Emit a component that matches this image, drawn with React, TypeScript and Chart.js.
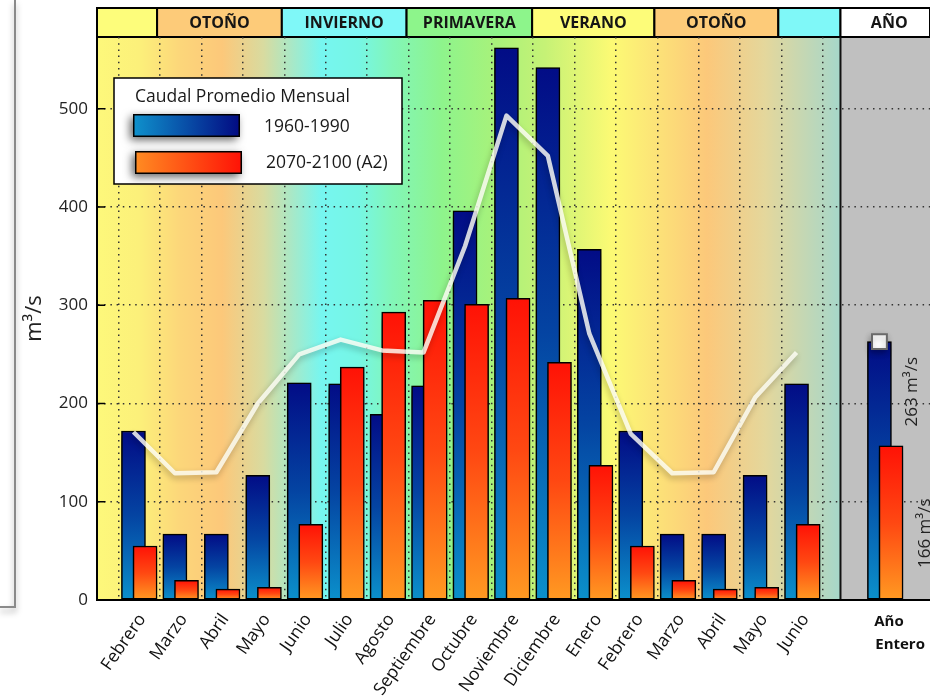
import React, { useEffect, useRef } from 'react';
import { Chart, registerables } from 'chart.js';

Chart.register(...registerables);

// ---------------- data ----------------
const monthLabels = [
  'Febrero', 'Marzo', 'Abril', 'Mayo', 'Junio', 'Julio', 'Agosto', 'Septiembre',
  'Octubre', 'Noviembre', 'Diciembre', 'Enero', 'Febrero', 'Marzo', 'Abril', 'Mayo', 'Junio',
];
const flow19601990 = [172, 67, 67, 127, 221, 220, 189, 218, 396, 562, 542, 357, 172, 67, 67, 127, 220];
const flow20702100 = [55, 20, 11, 13, 77, 237, 293, 305, 301, 307, 242, 137, 55, 20, 11, 13, 77];
const meanLine = [171, 129, 130, 200, 250, 265, 254, 252, 360, 493, 452, 271, 169, 129, 130, 206, 252];
const annualLabel = ['Año', 'Entero'];
const annual19601990 = 263;
const annual20702100 = 157;
const annualText19601990 = '263 m³/s';
const annualText20702100 = '166 m³/s';
const seasonNames = ['', 'OTOÑO', 'INVIERNO', 'PRIMAVERA', 'VERANO', 'OTOÑO', '', 'AÑO'];
const yTickValues = [0, 100, 200, 300, 400, 500];
const legendTitle = 'Caudal Promedio Mensual';
const seriesNames = ['1960-1990', '2070-2100 (A2)'];
const yAxisTitle = 'm³/s';

// ---------------- layout / style ----------------
const FONT = "'Open Sans', sans-serif";
const X_MIN = -1.02;
const X_MAX = 19.08;
const Y_MAX = 573;
const BAR_SHIFT = 0.14;
const ANNUAL_POS = 18;
const PANEL_START = 16.92;
const SEASON_EDGES = [-1.02, 0.43, 3.44, 6.45, 9.48, 12.43, 15.42, 16.92, 19.08];
const SEASON_COLORS = ['#fdfd7b', '#fdcb79', '#7ff8f8', '#8df58b', '#fdfc79', '#fdcb79', '#7ff8f8', '#ffffff'];
const BG_STOPS: [number, string][] = [
  [-1.02, '#fdf87b'], [0.0, '#fcf07a'], [1.0, '#fcd67a'], [2.0, '#fcc87a'], [3.0, '#d8dba0'],
  [4.4, '#76f6f0'], [5.3, '#76f6e4'], [6.1, '#82f6b8'], [7.3, '#8ef48c'], [8.6, '#a8f27a'],
  [9.8, '#c6f276'], [11.4, '#fcfa74'], [12.6, '#fce078'], [13.7, '#fcc87a'], [15.1, '#e4d79c'],
  [16.92, '#a6d7ca'],
];
const BLUE_STOPS: [number, string][] = [[0, '#020c86'], [0.5, '#0444a2'], [1, '#0b90cb']];
const RED_STOPS: [number, string][] = [[0, '#ff1206'], [0.5, '#ff4812'], [1, '#ff9a22']];

const barGradient = (c: any, stops: [number, string][]) => {
  const chart = c.chart;
  if (!chart.chartArea || c.type !== 'data' || !c.raw) return stops[0][1];
  const ys = chart.scales.y;
  const top = ys.getPixelForValue(c.raw.y);
  const base = ys.getPixelForValue(0);
  const g = chart.ctx.createLinearGradient(0, top, 0, base);
  stops.forEach(([o, col]) => g.addColorStop(o, col));
  return g;
};

const backdropPlugin = {
  id: 'backdrop',
  beforeDraw(chart: any) {
    const { ctx, chartArea: a, scales } = chart;
    const xs = scales.x;
    const px = (v: number) => xs.getPixelForValue(v);
    const panelX = px(PANEL_START);
    ctx.save();
    const g = ctx.createLinearGradient(a.left, 0, panelX, 0);
    BG_STOPS.forEach(([v, c]) => {
      const o = Math.min(1, Math.max(0, (px(v) - a.left) / (panelX - a.left)));
      g.addColorStop(o, c);
    });
    ctx.fillStyle = g;
    ctx.fillRect(a.left, a.top, panelX - a.left, a.bottom - a.top);
    ctx.fillStyle = '#c0c0c0';
    ctx.fillRect(panelX, a.top, a.right - panelX, a.bottom - a.top);
    // header
    const hTop = 8;
    const hBot = a.top;
    ctx.font = `bold 16px ${FONT}`;
    ctx.textAlign = 'center';
    ctx.textBaseline = 'middle';
    for (let i = 0; i < seasonNames.length; i++) {
      const x0 = px(SEASON_EDGES[i]);
      const x1 = Math.min(px(SEASON_EDGES[i + 1]), a.right + 5);
      ctx.fillStyle = SEASON_COLORS[i];
      ctx.fillRect(x0, hTop, x1 - x0, hBot - hTop);
      ctx.lineWidth = 2;
      ctx.strokeStyle = '#000';
      ctx.strokeRect(x0, hTop, x1 - x0, hBot - hTop);
      ctx.fillStyle = '#151515';
      const cx = i === seasonNames.length - 1 ? (x0 + a.right) / 2 + 4 : (x0 + x1) / 2;
      ctx.fillText(seasonNames[i], cx, (hTop + hBot) / 2 + 1);
    }
    // divider between months and annual panel
    ctx.beginPath();
    ctx.moveTo(panelX, a.top);
    ctx.lineTo(panelX, a.bottom);
    ctx.lineWidth = 2;
    ctx.strokeStyle = '#111';
    ctx.stroke();
    ctx.restore();
  },
  afterDraw(chart: any) {
    const { ctx, chartArea: a, scales } = chart;
    const xs = scales.x;
    const ys = scales.y;
    ctx.save();
    // inner y ticks
    ctx.strokeStyle = '#000';
    ctx.lineWidth = 1.5;
    yTickValues.forEach((v) => {
      const y = ys.getPixelForValue(v);
      ctx.beginPath();
      ctx.moveTo(a.left, y);
      ctx.lineTo(a.left + 8, y);
      ctx.stroke();
    });
    // legend
    const L = a.left + 17;
    const T = a.top + 41;
    const W = 288;
    const H = 106;
    ctx.fillStyle = '#fff';
    ctx.fillRect(L, T, W, H);
    ctx.lineWidth = 1.5;
    ctx.strokeStyle = '#000';
    ctx.strokeRect(L, T, W, H);
    ctx.fillStyle = '#1a1a1a';
    ctx.font = `17.5px ${FONT}`;
    ctx.textAlign = 'left';
    ctx.textBaseline = 'middle';
    ctx.fillText(legendTitle, L + 21, T + 19);
    const sw = [
      { x: L + 19, y: T + 36, stops: ['#0f92cc', '#020a82'], tx: L + 150, ty: T + 49, label: seriesNames[0] },
      { x: L + 21, y: T + 73, stops: ['#ff8c22', '#ff1206'], tx: L + 152, ty: T + 85, label: seriesNames[1] },
    ];
    sw.forEach((s) => {
      ctx.save();
      ctx.shadowColor = 'rgba(0,0,0,0.6)';
      ctx.shadowBlur = 8;
      ctx.shadowOffsetX = -3;
      ctx.shadowOffsetY = 3;
      ctx.fillStyle = '#000';
      ctx.fillRect(s.x, s.y, 107, 23);
      ctx.restore();
      const g2 = ctx.createLinearGradient(s.x, 0, s.x + 107, 0);
      g2.addColorStop(0, s.stops[0]);
      g2.addColorStop(1, s.stops[1]);
      ctx.fillStyle = g2;
      ctx.fillRect(s.x + 1.5, s.y + 1.5, 104, 20);
      ctx.fillStyle = '#1a1a1a';
      ctx.fillText(s.label, s.tx, s.ty);
    });
    // annual labels
    ctx.font = `17px ${FONT}`;
    ctx.fillStyle = '#222';
    ctx.textAlign = 'center';
    const ax = xs.getPixelForValue(ANNUAL_POS);
    [
      { t: annualText19601990, x: ax + 27, y: ys.getPixelForValue(212) },
      { t: annualText20702100, x: ax + 40, y: ys.getPixelForValue(68) },
    ].forEach((l) => {
      ctx.save();
      ctx.translate(l.x, l.y);
      ctx.rotate(-Math.PI / 2);
      ctx.fillText(l.t, 0, 0);
      ctx.restore();
    });
    ctx.font = `bold 15px ${FONT}`;
    ctx.fillStyle = '#111';
    ctx.textAlign = 'left';
    ctx.fillText(annualLabel[0], ax - 11, a.bottom + 22);
    ctx.fillText(annualLabel[1], ax - 10, a.bottom + 45);
    // left frame
    ctx.save();
    ctx.shadowColor = 'rgba(0,0,0,0.35)';
    ctx.shadowBlur = 6;
    ctx.shadowOffsetY = 4;
    ctx.strokeStyle = '#8a8a8a';
    ctx.lineWidth = 2;
    ctx.beginPath();
    ctx.moveTo(15, 0);
    ctx.lineTo(15, 607);
    ctx.lineTo(0, 607);
    ctx.stroke();
    ctx.restore();
    ctx.restore();
  },
};

const shadowPlugin = {
  id: 'shadows',
  beforeDatasetDraw(chart: any, args: any) {
    const ctx = chart.ctx;
    ctx.save();
    if (args.meta.type === 'bar') {
      ctx.shadowColor = 'rgba(0,0,0,0.65)';
      ctx.shadowBlur = 11;
      ctx.shadowOffsetX = -4;
      ctx.shadowOffsetY = 5;
    } else {
      ctx.shadowColor = 'rgba(0,0,0,0.3)';
      ctx.shadowBlur = 6;
      ctx.shadowOffsetX = -1;
      ctx.shadowOffsetY = 3;
    }
  },
  afterDatasetDraw(chart: any) {
    chart.ctx.restore();
  },
};

export default function App() {
  const ref = useRef<HTMLCanvasElement | null>(null);
  useEffect(() => {
    if (!ref.current) return;
    const blueData = flow19601990.map((v, i) => ({ x: i - BAR_SHIFT, y: v }));
    blueData.push({ x: ANNUAL_POS - BAR_SHIFT, y: annual19601990 });
    const redData = flow20702100.map((v, i) => ({ x: i + BAR_SHIFT, y: v }));
    redData.push({ x: ANNUAL_POS + BAR_SHIFT, y: annual20702100 });
    const lineData = meanLine.map((v, i) => ({ x: i - BAR_SHIFT, y: v }));

    const chart = new Chart(ref.current, {
      type: 'bar',
      data: {
        datasets: [
          {
            type: 'line',
            label: 'mean',
            data: lineData,
            borderColor: 'rgba(255,255,246,0.82)',
            borderWidth: 4.5,
            borderJoinStyle: 'round',
            pointRadius: 0,
            tension: 0,
            order: 0,
            clip: false,
          } as any,
          {
            type: 'line',
            label: 'annual',
            data: [{ x: ANNUAL_POS - BAR_SHIFT, y: annual19601990 }],
            showLine: false,
            pointStyle: 'rect',
            pointRadius: 10.5,
            pointBackgroundColor: '#ffffff',
            pointBorderColor: '#6a6a6a',
            pointBorderWidth: 2,
            order: 0,
            clip: false,
          } as any,
          {
            label: seriesNames[1],
            data: redData,
            backgroundColor: (c: any) => barGradient(c, RED_STOPS),
            borderColor: '#000',
            borderWidth: 1.5,
            borderSkipped: false,
            barThickness: 24,
            grouped: false,
            order: 1,
            clip: false,
          } as any,
          {
            label: seriesNames[0],
            data: blueData,
            backgroundColor: (c: any) => barGradient(c, BLUE_STOPS),
            borderColor: '#000',
            borderWidth: 1.5,
            borderSkipped: false,
            barThickness: 24,
            grouped: false,
            order: 2,
            clip: false,
          } as any,
        ],
      },
      options: {
        animation: false,
        responsive: false,
        maintainAspectRatio: false,
        layout: { autoPadding: false, padding: { top: 37, left: 0, right: 0, bottom: 0 } },
        plugins: { legend: { display: false }, tooltip: { enabled: false } },
        scales: {
          x: {
            type: 'linear',
            min: X_MIN,
            max: X_MAX,
            bounds: 'data',
            offset: false,
            afterBuildTicks: (s: any) => {
              s.ticks = monthLabels.map((_, i) => ({ value: i }));
            },
            afterFit: (s: any) => {
              s.height = 99;
              s.paddingLeft = 0;
              s.paddingRight = 0;
            },
            ticks: {
              autoSkip: false,
              minRotation: 55,
              maxRotation: 55,
              padding: 10,
              labelOffset: 3,
              color: '#111',
              font: { family: FONT, size: 17.5 },
              callback: (_v: any, i: number) => monthLabels[i] ?? '',
            },
            grid: { color: '#333', lineWidth: 1.5, drawTicks: false },
            border: { display: true, color: '#000', width: 2, dash: [1.5, 4.7] },
          },
          y: {
            min: 0,
            max: Y_MAX,
            afterBuildTicks: (s: any) => {
              s.ticks = yTickValues.map((v) => ({ value: v }));
            },
            afterFit: (s: any) => {
              s.width = 97;
              s.paddingTop = 0;
              s.paddingBottom = 0;
            },
            ticks: {
              padding: 9,
              color: '#222',
              font: { family: FONT, size: 17 },
            },
            grid: { color: '#333', lineWidth: 1.5, drawTicks: false },
            border: { display: true, color: '#000', width: 2, dash: [1.5, 4.7] },
            title: {
              display: true,
              text: yAxisTitle,
              color: '#222',
              font: { family: FONT, size: 22 },
              padding: { top: 22, bottom: 0 },
            },
          },
        },
      } as any,
      plugins: [backdropPlugin, shadowPlugin],
    });
    return () => chart.destroy();
  }, []);

  return (
    <div style={{ position: 'fixed', left: 0, top: 0, width: 930, height: 699, background: '#fff' }}>
      <canvas ref={ref} width={930} height={699} style={{ display: 'block' }} />
    </div>
  );
}
